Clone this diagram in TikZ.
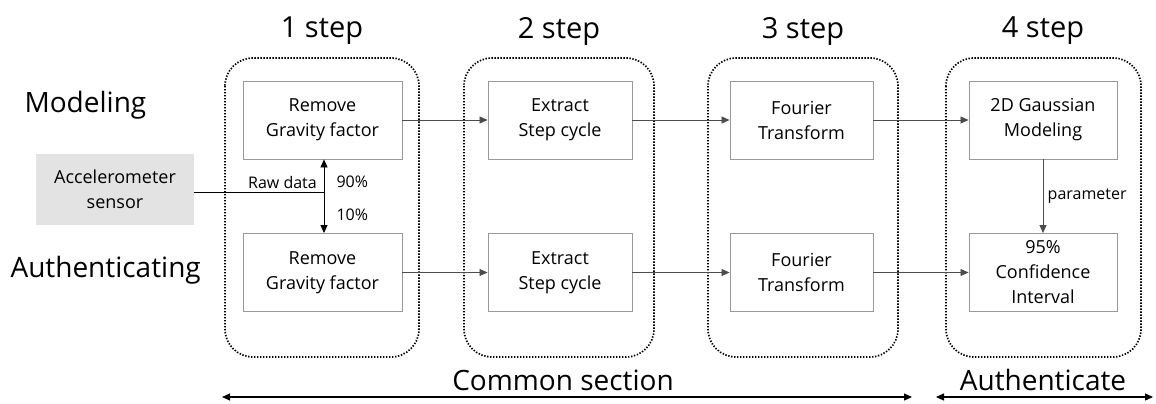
\documentclass[tikz,border=0pt]{standalone}
\usepackage{fontspec}
\setmainfont{Open Sans}
\usetikzlibrary{arrows.meta}
\begin{document}
\begin{tikzpicture}[x=1pt,y=-1pt,
  stepbox/.style={draw=black!40, line width=0.9pt, fill=white, minimum width=159pt, minimum height=78pt, align=center, font=\fontsize{18}{25}\selectfont, inner sep=2pt},
  group/.style={draw=black, line width=1.7pt, dash pattern=on 1.4pt off 1.6pt, rounded corners=28pt},
  flow/.style={draw=black!70, line width=0.8pt, -{Triangle[length=8pt,width=7pt]}},
  title/.style={font=\fontsize{29}{32}\selectfont},
  rowlabel/.style={font=\fontsize{28}{32}\selectfont},
  small/.style={font=\fontsize{16}{18}\selectfont}
]
\useasboundingbox (0,0) rectangle (1156,404);

% dotted step groups
\draw[group] (225,58) rectangle (419,357);
\draw[group] (464,58) rectangle (654,357);
\draw[group] (708,58) rectangle (898,357);
\draw[group] (946,58) rectangle (1141,357);

% step titles
\node[title] (t1) at (322,31) {1 step};
\node[title] (t2) at (559,31) {2 step};
\node[title] (t3) at (803,31) {3 step};
\node[title] (t4) at (1043,31) {4 step};

% row labels
\node[rowlabel, anchor=west] (mod) at (21,105) {Modeling};
\node[rowlabel, anchor=west] (auth) at (7,270) {Authenticating};

% sensor
\node[fill=black!11, minimum width=158pt, minimum height=71pt, align=center, font=\fontsize{18}{25}\selectfont] (acc) at (115,189) {Accelerometer\\sensor};

% modeling row
\node[stepbox] (m1) at (322.5,120) {Remove\\Gravity factor};
\node[stepbox, minimum width=144pt] (m2) at (560,120) {Extract\\Step cycle};
\node[stepbox, minimum width=143pt] (m3) at (801.5,120) {Fourier\\Transform};
\node[stepbox, minimum width=148pt] (m4) at (1043,120) {2D Gaussian\\Modeling};

% authenticating row
\node[stepbox] (a1) at (322.5,272.5) {Remove\\Gravity factor};
\node[stepbox, minimum width=144pt] (a2) at (560,272.5) {Extract\\Step cycle};
\node[stepbox, minimum width=143pt] (a3) at (801.5,272.5) {Fourier\\Transform};
\node[stepbox, minimum width=148pt, font=\fontsize{18}{25}\selectfont] (a4) at (1043,272.5) {95\%\\Confidence\\Interval};

% raw data split
\coordinate (split) at (324,192);
\draw[line width=0.8pt] (acc.east |- split) -- (split);
\draw[line width=0.8pt, {Triangle[length=8pt,width=7pt]}-{Triangle[length=8pt,width=7pt]}] (m1.south -| split) -- (a1.north -| split);
\node[small, anchor=south east, inner sep=1pt] (raw) at (318,190) {Raw data};
\node[small, anchor=west] (p90) at (333,182) {90\%};
\node[small, anchor=west] (p10) at (333,215) {10\%};

% flow arrows
\draw[flow] (m1) -- (m2);
\draw[flow] (m2) -- (m3);
\draw[flow] (m3) -- (m4);
\draw[flow] (a1) -- (a2);
\draw[flow] (a2) -- (a3);
\draw[flow] (a3) -- (a4);
\draw[flow] (m4) -- node[small, right, pos=0.5, xshift=1pt] (par) {parameter} (a4);

% section spans
\coordinate (c1) at (222,397);
\coordinate (c2) at (912,397);
\coordinate (c3) at (936,397);
\coordinate (c4) at (1153,397);
\draw[line width=1.2pt, {Triangle[length=8pt,width=7pt]}-{Triangle[length=8pt,width=7pt]}] (c1) -- (c2);
\draw[line width=1.2pt, {Triangle[length=8pt,width=7pt]}-{Triangle[length=8pt,width=7pt]}] (c3) -- (c4);
\node[rowlabel] (common) at (563,380) {Common section};
\node[rowlabel] (authc) at (1043,380) {Authenticate};
\end{tikzpicture}
\end{document}
